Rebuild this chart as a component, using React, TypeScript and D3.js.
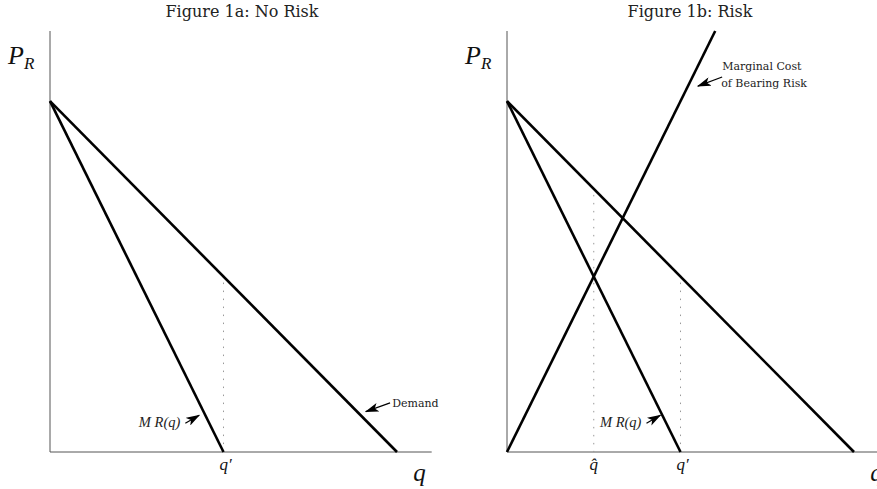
import React from 'react';
import * as d3 from 'd3';

// model: price on y, quantity on x
const panelTitles = ['Figure 1a: No Risk', 'Figure 1b: Risk'];
const demand = [[0, 10], [10, 0]];
const marginalRevenue = [[0, 10], [5, 0]];
const marginalCost = [[0, 0], [6, 12]];
const qPrime = 5;
const qHat = 2.5;
const qMax = 11;
const pMax = 12;

// annotation anchors in data units: [textQ, textP, tailQ, tailP, headQ, headP]
const mrNote = [[2.56, 0.71, 3.9, 0.82, 4.3, 1.05], [2.68, 0.71, 4.02, 0.82, 4.42, 1.05]];
const demandNote = [9.86, 1.28, 9.8, 1.4, 9.1, 1.15];
const mcNote = [6.2, 10.89, 6.2, 10.69, 5.5, 10.43];

const W = 877;
const H = 489;
const panelLeft = [50, 507];
const axisBottom = 452;
const axisTop = 31;
const pxPerQ = 34.7;

const serif = '"DejaVu Serif", serif';
const mathFont = '"Liberation Serif", "DejaVu Serif", serif';

const line = d3.line<number[]>();

function Panel({ index }: { index: number }) {
  const x0 = panelLeft[index];
  const x = d3.scaleLinear().domain([0, qMax]).range([x0, x0 + qMax * pxPerQ]);
  const y = d3.scaleLinear().domain([0, pMax]).range([axisBottom, axisTop]);
  const risk = index === 1;
  const pts = (arr: number[][]) => line(arr.map(d => [x(d[0]), y(d[1])]));
  const demandAt = (q: number) => 10 - q;
  const dotted = risk ? [qHat, qPrime] : [qPrime];
  const mr = mrNote[index];

  return (
    <g>
      <text x={risk ? 690 : 242} y={17} textAnchor="middle"
        fontFamily={serif} fontSize={16} fill="#222">{panelTitles[index]}</text>

      {/* axes */}
      <line x1={x(0)} x2={x(0)} y1={y(pMax)} y2={y(0)} stroke="#555" strokeWidth={1} />
      <line x1={x(0)} x2={x(qMax)} y1={y(0)} y2={y(0)} stroke="#555" strokeWidth={1} />
      <text x={x0 - 42} y={64} fontFamily={mathFont} fontStyle="italic" fontSize={26} fill="#111">
        P<tspan fontSize={17} dy={5}>R</tspan>
      </text>
      <text x={x(10.65)} y={481} fontFamily={mathFont} fontStyle="italic" fontSize={25}
        textAnchor="middle" fill="#111">q</text>

      {/* dotted drop lines */}
      {dotted.map(q => (
        <line key={q} x1={x(q)} x2={x(q)} y1={y(demandAt(q)) + 6} y2={y(0)}
          stroke="#999" strokeWidth={1} strokeDasharray="1.5,6.5" />
      ))}

      {/* curves */}
      <path d={pts(demand) || ''} stroke="#000" strokeWidth={2.6} fill="none" />
      <path d={pts(marginalRevenue) || ''} stroke="#000" strokeWidth={2.6} fill="none" />
      {risk && <path d={pts(marginalCost) || ''} stroke="#000" strokeWidth={2.6} fill="none" />}

      {/* tick labels */}
      <text x={x(qPrime) + 2} y={470} fontFamily={mathFont} fontStyle="italic" fontSize={17}
        textAnchor="middle" fill="#111">q′</text>
      {risk && (
        <text x={x(qHat)} y={470} fontFamily={mathFont} fontStyle="italic" fontSize={17}
          textAnchor="middle" fill="#111">q̂</text>
      )}

      {/* MR label */}
      <text x={x(mr[0])} y={y(mr[1])} fontFamily={mathFont} fontStyle="italic" fontSize={14.5} fill="#222">M R(q)</text>
      <line x1={x(mr[2])} y1={y(mr[3])} x2={x(mr[4])} y2={y(mr[5])} stroke="#000" strokeWidth={1.2}
        markerEnd="url(#head)" />

      {!risk && (
        <g>
          <text x={x(demandNote[0])} y={y(demandNote[1])} fontFamily={serif} fontSize={11} fill="#222">Demand</text>
          <line x1={x(demandNote[2])} y1={y(demandNote[3])} x2={x(demandNote[4])} y2={y(demandNote[5])}
            stroke="#000" strokeWidth={1.2} markerEnd="url(#head)" />
        </g>
      )}
      {risk && (
        <g>
          <text x={x(mcNote[0])} y={y(mcNote[1])} fontFamily={serif} fontSize={11} fill="#222">Marginal Cost</text>
          <text x={x(mcNote[0]) - 1} y={y(mcNote[1]) + 17} fontFamily={serif} fontSize={11} fill="#222">of Bearing Risk</text>
          <line x1={x(mcNote[2])} y1={y(mcNote[3])} x2={x(mcNote[4])} y2={y(mcNote[5])}
            stroke="#000" strokeWidth={1.2} markerEnd="url(#head)" />
        </g>
      )}
    </g>
  );
}

export default function App() {
  return (
    <svg width={W} height={H} style={{ position: 'absolute', left: 0, top: 0, background: '#fff' }}>
      <defs>
        <marker id="head" viewBox="0 0 14 9" refX={13} refY={4.5} markerWidth={14} markerHeight={9}
          markerUnits="userSpaceOnUse" orient="auto">
          <path d="M0,0 L14,4.5 L0,9 L3.5,4.5 Z" fill="#000" />
        </marker>
      </defs>
      {panelTitles.map((_, i) => <Panel key={i} index={i} />)}
    </svg>
  );
}
